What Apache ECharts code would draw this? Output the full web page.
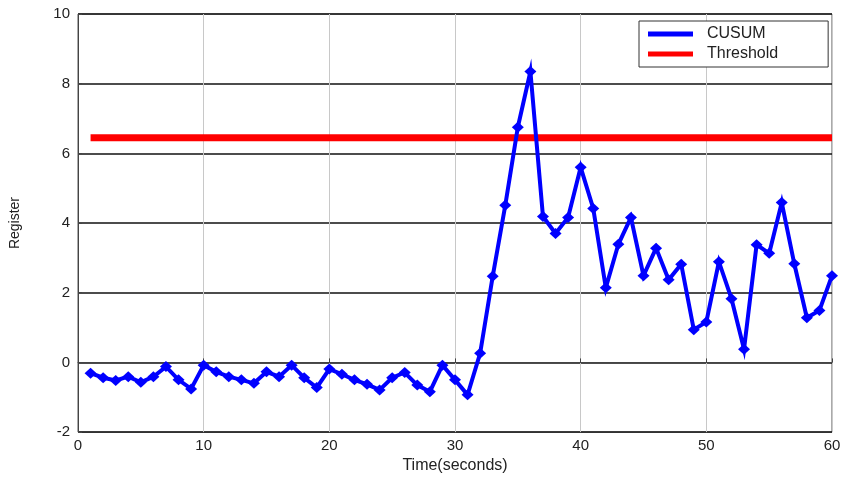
<!DOCTYPE html>
<html>
<head>
<meta charset="utf-8">
<script src="https://cdn.jsdelivr.net/npm/echarts@6/dist/echarts.min.js"></script>
<style>html,body{margin:0;padding:0;background:#fff}#c{width:845px;height:479px}</style>
</head>
<body>
<div id="c"></div>
<script>
var time = [1,2,3,4,5,6,7,8,9,10,11,12,13,14,15,16,17,18,19,20,21,22,23,24,25,26,27,28,29,30,31,32,33,34,35,36,37,38,39,40,41,42,43,44,45,46,47,48,49,50,51,52,53,54,55,56,57,58,59,60];
var cusum = [-0.31,-0.44,-0.52,-0.41,-0.57,-0.41,-0.12,-0.5,-0.76,-0.08,-0.27,-0.41,-0.5,-0.6,-0.27,-0.41,-0.08,-0.44,-0.72,-0.19,-0.34,-0.5,-0.63,-0.79,-0.44,-0.29,-0.65,-0.84,-0.08,-0.5,-0.93,0.26,2.47,4.51,6.75,8.35,4.19,3.7,4.16,5.6,4.42,2.14,3.39,4.16,2.49,3.28,2.37,2.82,0.94,1.16,2.89,1.83,0.38,3.38,3.13,4.59,2.83,1.28,1.49,2.49];
var thresholdValue = 6.45;
var thresholdTime = [1, 60];
var xTicks = [0,10,20,30,40,50,60];
var yTicks = [-2,0,2,4,6,8,10];

var cusumData = time.map(function(t,i){return [t, cusum[i]];});
var thrData = thresholdTime.map(function(t){return [t, thresholdValue];});
var font = 'Liberation Sans, Arial, sans-serif';

var chart = echarts.init(document.getElementById('c'), null, {renderer:'canvas'});
chart.setOption({
  animation: false,
  backgroundColor: '#fff',
  grid: {left: 78, right: 13, top: 14, bottom: 45, show: true, borderColor: '#555', borderWidth: 1, backgroundColor: '#fff'},
  legend: {
    left: 639, top: 21, orient: 'vertical',
    backgroundColor: '#fff', borderColor: '#333', borderWidth: 1,
    padding: [5, 50, 5, 9], itemGap: 4,
    itemWidth: 45, itemHeight: 5,
    textStyle: {fontFamily: font, fontSize: 16, color: '#222', padding: [0,0,0,9]},
    data: [{name:'CUSUM', icon:'rect'}, {name:'Threshold', icon:'rect'}]
  },
  xAxis: {
    type: 'value', min: xTicks[0], max: xTicks[xTicks.length-1], interval: 10,
    name: 'Time(seconds)', nameLocation: 'middle', nameGap: 24,
    nameTextStyle: {fontFamily: font, fontSize: 16, color: '#222'},
    axisLine: {show: true, lineStyle: {color: '#444', width: 1}},
    axisTick: {show: true, inside: true, length: 4, lineStyle: {color: '#444'}},
    axisLabel: {fontFamily: font, fontSize: 15, color: '#222', margin: 6},
    splitLine: {show: true, lineStyle: {color: '#c8c8c8', width: 1}}
  },
  yAxis: {
    type: 'value', min: yTicks[0], max: yTicks[yTicks.length-1], interval: 2,
    name: 'Register', nameLocation: 'middle', nameGap: 56, nameRotate: 90,
    nameTextStyle: {fontFamily: font, fontSize: 14, color: '#222'},
    axisLine: {show: true, lineStyle: {color: '#444', width: 1}},
    axisTick: {show: true, inside: true, length: 4, lineStyle: {color: '#444'}},
    axisLabel: {fontFamily: font, fontSize: 15, color: '#222', margin: 8},
    splitLine: {show: true, lineStyle: {color: '#111', width: 1.5}}
  },
  series: [
    {
      name: 'CUSUM', type: 'line', data: cusumData,
      symbol: 'diamond', symbolSize: [12, 11],
      itemStyle: {color: '#0000ff'},
      lineStyle: {color: '#0000ff', width: 4, join: 'miter', miterLimit: 10},
      z: 3
    },
    {
      name: 'Threshold', type: 'line', data: thrData,
      symbol: 'none',
      itemStyle: {color: '#ff0000'},
      lineStyle: {color: '#ff0000', width: 7},
      z: 2
    }
  ]
});
</script>
</body>
</html>
